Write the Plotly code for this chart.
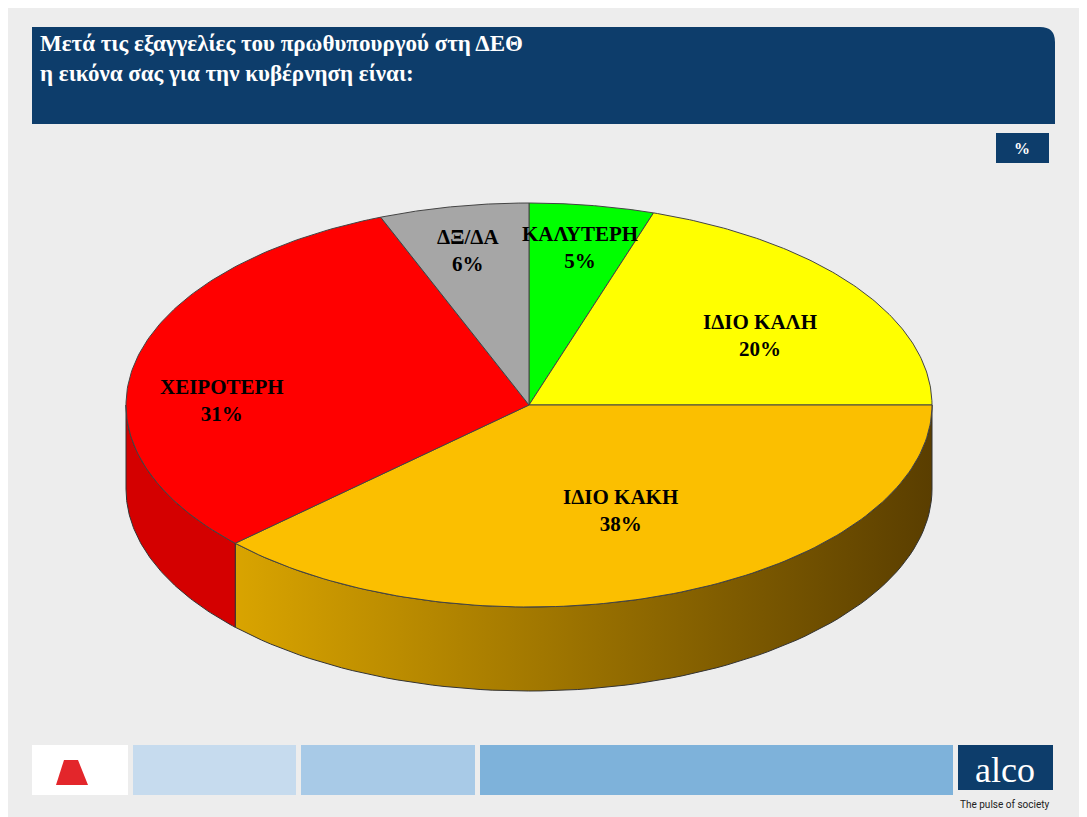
import numpy as np
import plotly.graph_objects as go

categories = ["ΚΑΛΥΤΕΡΗ", "ΙΔΙΟ ΚΑΛΗ", "ΙΔΙΟ ΚΑΚΗ", "ΧΕΙΡΟΤΕΡΗ", "ΔΞ/ΔΑ"]
values = [5, 20, 38, 31, 6]
colors = ["#00ff00", "#ffff00", "#fbbf00", "#ff0000", "#a6a6a6"]
side_scales = [None, None, [[0, "#d9a400"], [1, "#5a3e00"]], [[0, "#d40000"], [1, "#d40000"]], None]
label_pos = [(580, 247), (760, 335), (620, 510), (222, 400), (468, 250)]

W, H = 1087, 817
OFF = 8  # page body margin
cx, cy, rx, ry, depth = 529, 405, 403, 202, 84
SERIF = "Liberation Serif, Times New Roman, serif"


def ell(a):
    t = np.radians(a)
    return cx + rx * np.sin(t), cy - ry * np.cos(t)


fig = go.Figure()
total = sum(values)
starts = np.cumsum([0] + values[:-1]) / total * 360
ends = np.cumsum(values) / total * 360

# side walls (visible front half: 90..270 deg)
for s, e, col, sc in zip(starts, ends, colors, side_scales):
    a0, a1 = max(s, 90), min(e, 270)
    if a1 <= a0:
        continue
    ang = np.linspace(a0, a1, 80)
    xs, ys = ell(ang)
    px_ = np.concatenate([xs, xs[::-1], xs[:1]])
    py_ = np.concatenate([ys, ys[::-1] + depth, ys[:1]])
    kw = dict(fillcolor=col)
    if sc is not None:
        kw = dict(fillgradient=dict(type="horizontal", colorscale=sc))
    fig.add_trace(go.Scatter(x=px_, y=py_, mode="lines", fill="toself",
                             line=dict(color="#333333", width=1), hoverinfo="skip", **kw))

# top faces
for s, e, col, name, v in zip(starts, ends, colors, categories, values):
    ang = np.linspace(s, e, 120)
    xs, ys = ell(ang)
    fig.add_trace(go.Scatter(x=np.concatenate([[cx], xs, [cx]]), y=np.concatenate([[cy], ys, [cy]]),
                             mode="lines", fill="toself", fillcolor=col,
                             line=dict(color="#444444", width=1), name=name,
                             hovertemplate=f"{name}: {v}%<extra></extra>"))

for name, v, (lx, ly) in zip(categories, values, label_pos):
    fig.add_annotation(x=lx, y=ly, text=f"<b>{name}<br>{v}%</b>", showarrow=False,
                       font=dict(family=SERIF, size=21, color="black"))

shapes = [
    dict(type="path", path="M32,27 L1040,27 Q1055,27 1055,42 L1055,124 L32,124 Z",
         fillcolor="#0d3d6b", line=dict(width=0)),
    dict(type="rect", x0=996, x1=1049, y0=133, y1=163, fillcolor="#0d3d6b", line=dict(width=0)),
    dict(type="rect", x0=32, x1=128, y0=745, y1=795, fillcolor="#ffffff", line=dict(width=0)),
    dict(type="rect", x0=133, x1=296, y0=745, y1=795, fillcolor="#c6dbee", line=dict(width=0)),
    dict(type="rect", x0=301, x1=475, y0=745, y1=795, fillcolor="#a8cae7", line=dict(width=0)),
    dict(type="rect", x0=480, x1=953, y0=745, y1=795, fillcolor="#7eb2da", line=dict(width=0)),
    dict(type="rect", x0=958, x1=1053, y0=745, y1=790, fillcolor="#0d3d6b", line=dict(width=0)),
    dict(type="path", path="M64,760 L78,760 L88,785 L56,785 Z", fillcolor="#e3262b", line=dict(width=0)),
]
for sh in shapes:
    sh.update(xref="x", yref="y", layer="below")

fig.add_annotation(x=38, y=58, xanchor="left", yanchor="middle", showarrow=False, align="left",
                   text="<b>Μετά τις εξαγγελίες του πρωθυπουργού στη ΔΕΘ<br>η εικόνα σας για την κυβέρνηση είναι:</b>",
                   font=dict(family=SERIF, size=23, color="white"))
fig.add_annotation(x=1022, y=148, text="<b>%</b>", showarrow=False,
                   font=dict(family=SERIF, size=16, color="white"))
fig.add_annotation(x=1005, y=770, text="alco", showarrow=False,
                   font=dict(family=SERIF, size=36, color="white"))
fig.add_annotation(x=1005, y=804, text="The pulse of society", showarrow=False,
                   font=dict(family="Roboto, sans-serif", size=10, color="#222222"))

fig.update_layout(
    width=W, height=H, margin=dict(l=0, r=0, t=0, b=0),
    paper_bgcolor="#ededed", plot_bgcolor="#ededed", showlegend=False,
    shapes=shapes,
    xaxis=dict(range=[OFF, W + OFF], visible=False, fixedrange=True),
    yaxis=dict(range=[H + OFF, OFF], visible=False, fixedrange=True),
)
fig.write_html("out.html")
